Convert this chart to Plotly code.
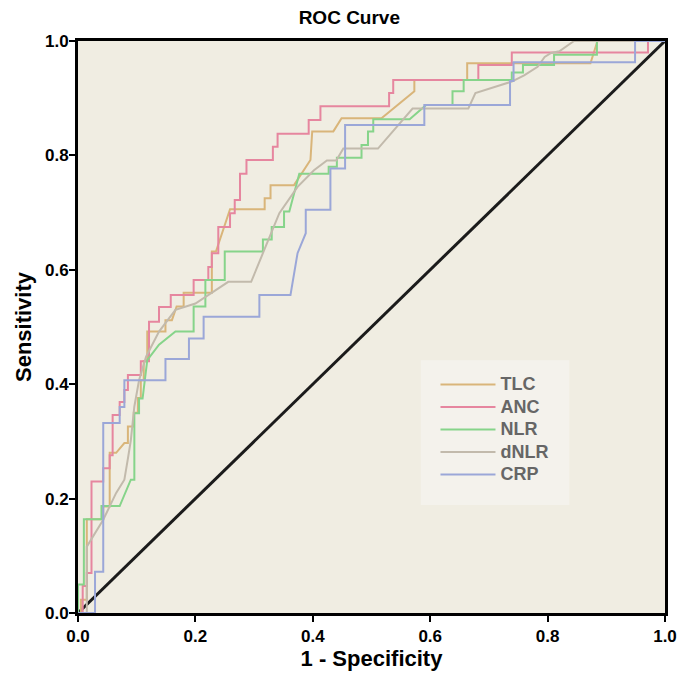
import plotly.graph_objects as go

# ---- data ----
tlc_x = [0, 0.005, 0.005, 0.015, 0.015, 0.043, 0.043, 0.054, 0.054, 0.065, 0.079, 0.085, 0.085, 0.095, 0.095,
         0.102, 0.102, 0.107, 0.107, 0.112, 0.112, 0.118, 0.118, 0.149, 0.149, 0.16, 0.168, 0.18, 0.18, 0.228,
         0.228, 0.235, 0.259, 0.318, 0.318, 0.328, 0.328, 0.368, 0.396, 0.399, 0.435, 0.449, 0.517, 0.573,
         0.573, 0.663, 0.663, 0.873, 0.885, 1.0]
tlc_y = [0, 0, 0.023, 0.023, 0.164, 0.164, 0.186, 0.186, 0.28, 0.28, 0.297, 0.297, 0.326, 0.326, 0.35,
         0.35, 0.376, 0.376, 0.407, 0.407, 0.44, 0.44, 0.492, 0.492, 0.512, 0.512, 0.536, 0.536, 0.56, 0.56,
         0.632, 0.632, 0.706, 0.706, 0.725, 0.725, 0.748, 0.748, 0.792, 0.842, 0.842, 0.865, 0.865, 0.912,
         0.932, 0.932, 0.961, 0.961, 1.0, 1.0]

anc_x = [0, 0.008, 0.008, 0.015, 0.015, 0.023, 0.023, 0.043, 0.043, 0.054, 0.054, 0.059, 0.059, 0.071, 0.071,
         0.079, 0.079, 0.085, 0.085, 0.107, 0.107, 0.121, 0.121, 0.138, 0.138, 0.158, 0.158, 0.197, 0.197,
         0.222, 0.222, 0.228, 0.228, 0.239, 0.239, 0.259, 0.259, 0.267, 0.267, 0.276, 0.276, 0.287, 0.287,
         0.332, 0.332, 0.340, 0.340, 0.393, 0.393, 0.413, 0.413, 0.530, 0.530, 0.537, 0.537, 0.682, 0.682,
         0.739, 0.739, 0.971, 0.971, 1.0]
anc_y = [0, 0, 0.047, 0.047, 0.07, 0.07, 0.23, 0.23, 0.253, 0.253, 0.276, 0.276, 0.346, 0.346, 0.369,
         0.369, 0.39, 0.39, 0.416, 0.416, 0.44, 0.44, 0.509, 0.509, 0.535, 0.535, 0.556, 0.556, 0.582,
         0.582, 0.605, 0.605, 0.629, 0.629, 0.675, 0.675, 0.699, 0.699, 0.722, 0.722, 0.768, 0.768, 0.792,
         0.792, 0.815, 0.815, 0.838, 0.838, 0.862, 0.862, 0.886, 0.886, 0.909, 0.909, 0.932, 0.932, 0.958,
         0.958, 0.98, 0.98, 1.0, 1.0]

nlr_x = [0, 0, 0.01, 0.01, 0.04, 0.04, 0.071, 0.09, 0.096, 0.096, 0.104, 0.104, 0.11, 0.118, 0.138, 0.166,
         0.197, 0.197, 0.217, 0.217, 0.25, 0.25, 0.315, 0.315, 0.33, 0.33, 0.351, 0.351, 0.36, 0.377, 0.427,
         0.427, 0.441, 0.441, 0.483, 0.483, 0.494, 0.494, 0.503, 0.503, 0.565, 0.593, 0.638, 0.638, 0.657,
         0.657, 0.739, 0.739, 0.758, 0.758, 0.811, 0.811, 0.884, 0.884, 1.0]
nlr_y = [0, 0.05, 0.05, 0.164, 0.164, 0.187, 0.187, 0.233, 0.233, 0.349, 0.349, 0.375, 0.375, 0.442, 0.469,
         0.492, 0.492, 0.536, 0.536, 0.582, 0.582, 0.632, 0.632, 0.653, 0.653, 0.675, 0.675, 0.702, 0.702,
         0.768, 0.768, 0.78, 0.78, 0.796, 0.796, 0.818, 0.818, 0.842, 0.842, 0.863, 0.863, 0.888, 0.888,
         0.912, 0.912, 0.932, 0.932, 0.945, 0.945, 0.958, 0.958, 0.976, 0.976, 1.0, 1.0]

dnlr_x = [0, 0.015, 0.015, 0.043, 0.065, 0.079, 0.085, 0.09, 0.096, 0.104, 0.116, 0.138, 0.166, 0.2, 0.256,
          0.295, 0.315, 0.343, 0.374, 0.402, 0.424, 0.44, 0.452, 0.511, 0.57, 0.665, 0.677, 0.739, 0.76,
          0.783, 0.795, 0.806, 0.82, 0.845, 1.0]
dnlr_y = [0, 0, 0.116, 0.163, 0.21, 0.233, 0.27, 0.302, 0.361, 0.407, 0.448, 0.492, 0.53, 0.541, 0.579,
          0.579, 0.629, 0.699, 0.745, 0.774, 0.791, 0.791, 0.812, 0.812, 0.882, 0.882, 0.909, 0.929, 0.94,
          0.955, 0.972, 0.979, 0.982, 1.0, 1.0]

crp_x = [0, 0.029, 0.029, 0.043, 0.043, 0.071, 0.071, 0.079, 0.079, 0.149, 0.149, 0.189, 0.189, 0.214,
         0.214, 0.309, 0.309, 0.362, 0.374, 0.388, 0.388, 0.43, 0.43, 0.455, 0.455, 0.59, 0.59, 0.736,
         0.736, 0.742, 0.742, 0.949, 0.949, 1.0]
crp_y = [0, 0, 0.072, 0.072, 0.332, 0.332, 0.36, 0.36, 0.407, 0.407, 0.444, 0.444, 0.48, 0.48, 0.518,
         0.518, 0.556, 0.556, 0.629, 0.664, 0.705, 0.705, 0.777, 0.777, 0.853, 0.853, 0.888, 0.888, 0.93,
         0.93, 0.963, 0.963, 1.0, 1.0]

ref_x = [0, 1]
ref_y = [0, 1]

series_names = ["TLC", "ANC", "NLR", "dNLR", "CRP"]
series_x = [tlc_x, anc_x, nlr_x, dnlr_x, crp_x]
series_y = [tlc_y, anc_y, nlr_y, dnlr_y, crp_y]
series_colors = ["#D9B57A", "#E6869F", "#86D48A", "#C2BAAC", "#9BA7D8"]

FONT = "Liberation Sans, Arial, sans-serif"

fig = go.Figure()
# reference diagonal
fig.add_trace(go.Scatter(x=ref_x, y=ref_y, mode="lines", line=dict(color="#1b1b1b", width=3),
                         showlegend=False, hoverinfo="skip"))
for name, xs, ys, col in zip(series_names, series_x, series_y, series_colors):
    fig.add_trace(go.Scatter(x=xs, y=ys, mode="lines",
                             name="<span style='font-size:18px'>" + name + "</span>",
                             line=dict(color=col, width=2)))

axis_common = dict(range=[0, 1], tickvals=[0, 0.2, 0.4, 0.6, 0.8, 1.0], tickformat=".1f",
                   showline=True, linecolor="black", linewidth=3, mirror=True,
                   ticks="outside", ticklen=6, tickwidth=2, tickcolor="black",
                   showgrid=False, zeroline=False,
                   tickfont=dict(family=FONT, size=17, color="black", weight="bold"))

# light legend panel (decoration behind the legend)
fig.add_shape(type="rect", xref="paper", yref="paper", x0=0.584, x1=0.837, y0=0.189, y1=0.442,
              fillcolor="#F4F2EC", line=dict(width=0), layer="below")

fig.update_layout(
    width=689, height=689,
    paper_bgcolor="white", plot_bgcolor="#F0EDE2",
    margin=dict(l=78, r=17, t=41, b=76),
    title=dict(text="ROC Curve", x=0.507, xanchor="center", y=0.975, yanchor="middle",
               font=dict(family=FONT, size=19, color="black", weight="bold")),
    xaxis=dict(title=dict(text="1 - Specificity", standoff=6,
                          font=dict(family=FONT, size=22, color="black", weight="bold")), **axis_common),
    yaxis=dict(title=dict(text="Sensitivity", standoff=8,
                          font=dict(family=FONT, size=22, color="black", weight="bold")),
               ticklabelstandoff=-3, **axis_common),
    legend=dict(x=0.609, y=0.428, xanchor="left", yanchor="top", bgcolor="rgba(0,0,0,0)",
                borderwidth=0, font=dict(family=FONT, size=15, color="#666666", weight="bold"),
                itemwidth=55, tracegroupgap=0),
    showlegend=True,
)

fig.write_html("out.html", config={"displayModeBar": False},
               post_script="document.body.style.margin='0';")
